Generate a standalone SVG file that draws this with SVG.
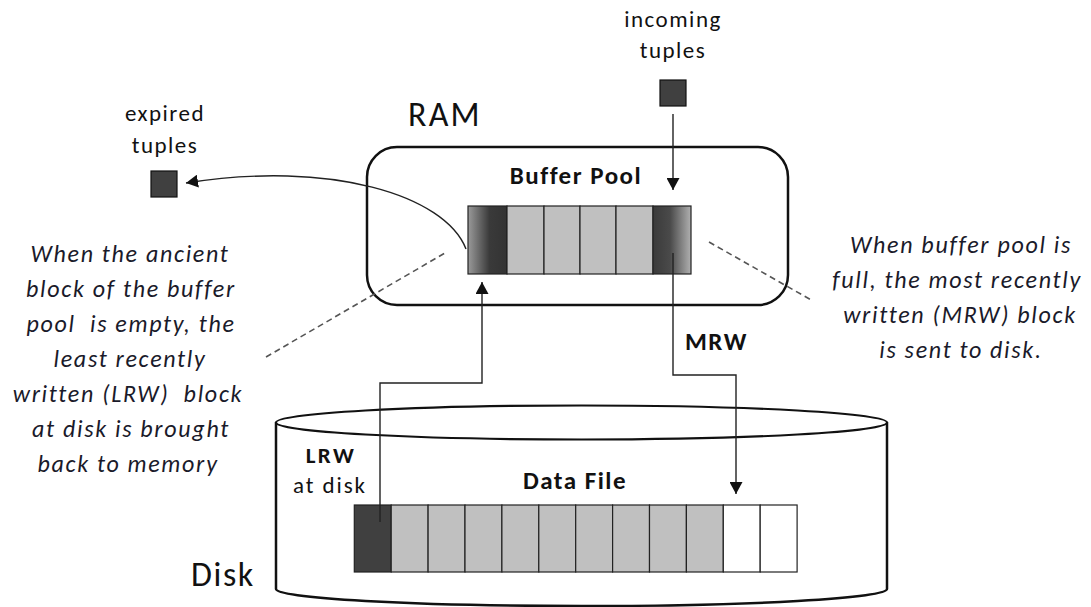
<svg xmlns="http://www.w3.org/2000/svg" width="1091" height="607" viewBox="0 0 1091 607">
  <style>
    .lbl { font-family: Carlito, Lato, "Liberation Sans", sans-serif; fill: #111; }
    .big { font-size: 34px; letter-spacing: 2.2px; }
    .small { font-size: 23px; letter-spacing: 1.5px; text-anchor: middle; }
    .bold { font-size: 25px; font-weight: bold; letter-spacing: 1.5px; }
    .note { font-size: 24px; font-style: italic; letter-spacing: 1.7px; text-anchor: middle; fill: #1a1a2a; }
    .cell { stroke: #222; stroke-width: 1.2; }
    .gray { fill: #c0c0c0; }
    .dark { fill: #404040; }
    .empty { fill: #ffffff; }
    .tuple { fill: #404040; stroke: #111; stroke-width: 1.2; }
    .conn { fill: none; stroke: #222; stroke-width: 1.4; }
    .dash { fill: none; stroke: #555; stroke-width: 1.6; stroke-dasharray: 6 4; }
  </style>
  <defs>
    <marker id="arrow" markerUnits="userSpaceOnUse" markerWidth="13" markerHeight="13" refX="12" refY="6.5" orient="auto">
      <path d="M0,0 L12,6.5 L0,13 Z" fill="#111"/>
    </marker>
    <linearGradient id="oldest" x1="0" y1="0" x2="1" y2="0">
      <stop offset="0" stop-color="#9a9a9a"/>
      <stop offset="0.55" stop-color="#3a3a3a"/>
      <stop offset="1" stop-color="#333333"/>
    </linearGradient>
    <linearGradient id="newest" x1="0" y1="0" x2="1" y2="0">
      <stop offset="0" stop-color="#3a3a3a"/>
      <stop offset="0.45" stop-color="#4a4a4a"/>
      <stop offset="1" stop-color="#b0b0b0"/>
    </linearGradient>
  </defs>

  <!-- disk cylinder -->
  <g id="disk">
    <path d="M276,422 L276,589 A305.5,17 0 0 0 887,589 L887,422" fill="#fff" stroke="#111" stroke-width="2.5"/>
    <ellipse cx="581.5" cy="422.5" rx="305.5" ry="17" fill="#fff" stroke="#111" stroke-width="2.2"/>
    <text class="lbl big" x="191" y="586" style="letter-spacing:1.6px">Disk</text>
  </g>

  <!-- data file blocks -->
  <g id="data-file">
    <rect class="cell dark" x="354.3" y="505" width="36.9" height="67"/>
    <rect class="cell gray" x="391.2" y="505" width="36.9" height="67"/>
    <rect class="cell gray" x="428.1" y="505" width="36.9" height="67"/>
    <rect class="cell gray" x="465" y="505" width="36.9" height="67"/>
    <rect class="cell gray" x="501.9" y="505" width="36.9" height="67"/>
    <rect class="cell gray" x="538.8" y="505" width="36.9" height="67"/>
    <rect class="cell gray" x="575.7" y="505" width="36.9" height="67"/>
    <rect class="cell gray" x="612.6" y="505" width="36.9" height="67"/>
    <rect class="cell gray" x="649.5" y="505" width="36.9" height="67"/>
    <rect class="cell gray" x="686.4" y="505" width="36.9" height="67"/>
    <rect class="cell empty" x="723.3" y="505" width="36.9" height="67"/>
    <rect class="cell empty" x="760.2" y="505" width="36.9" height="67"/>
    <text class="lbl bold" x="575" y="489" text-anchor="middle">Data File</text>
  </g>

  <g id="lrw-label">
    <text class="lbl" x="331" y="463" font-size="23" font-weight="bold" letter-spacing="2.4" text-anchor="middle">LRW</text>
    <text class="lbl" x="330" y="493" font-size="23" letter-spacing="1.9" text-anchor="middle">at disk</text>
  </g>

  <!-- RAM buffer pool -->
  <g id="ram">
    <text class="lbl big" x="408" y="126">RAM</text>
    <rect x="367" y="147" width="421" height="158" rx="30" ry="30" fill="#fff" stroke="#111" stroke-width="2.5"/>
    <text class="lbl bold" x="576" y="184" text-anchor="middle">Buffer Pool</text>
  </g>

  <g id="buffer-pool">
    <rect class="cell" fill="url(#oldest)" x="468" y="206" width="39" height="68"/>
    <rect class="cell gray" x="507" y="206" width="37" height="68"/>
    <rect class="cell gray" x="544" y="206" width="36" height="68"/>
    <rect class="cell gray" x="580" y="206" width="36" height="68"/>
    <rect class="cell gray" x="616" y="206" width="37" height="68"/>
    <rect class="cell" fill="url(#newest)" x="653" y="206" width="38" height="68"/>
  </g>

  <!-- tuples -->
  <g id="incoming">
    <text class="lbl small" x="673" y="27">incoming</text>
    <text class="lbl small" x="673" y="58">tuples</text>
    <rect class="tuple" x="660" y="80" width="26" height="26"/>
  </g>
  <g id="expired">
    <text class="lbl small" x="165" y="121">expired</text>
    <text class="lbl small" x="165" y="153">tuples</text>
    <rect class="tuple" x="151" y="171" width="26" height="26"/>
  </g>

  <!-- explanatory notes -->
  <g id="note-left">
    <text class="lbl note" x="130" y="262">When the ancient</text>
    <text class="lbl note" x="131" y="297">block of the buffer</text>
    <text class="lbl note" x="131" y="332" xml:space="preserve">pool  is empty, the</text>
    <text class="lbl note" x="130" y="367">least recently</text>
    <text class="lbl note" x="128" y="402" xml:space="preserve">written (LRW)  block</text>
    <text class="lbl note" x="131" y="437">at disk is brought</text>
    <text class="lbl note" x="128" y="472">back to memory</text>
  </g>
  <g id="note-right">
    <text class="lbl note" x="961" y="253">When buffer pool is</text>
    <text class="lbl note" x="957" y="288">full, the most recently</text>
    <text class="lbl note" x="960" y="323">written (MRW) block</text>
    <text class="lbl note" x="961" y="358">is sent to disk.</text>
  </g>

  <g id="mrw-label">
    <text class="lbl bold" x="685" y="350">MRW</text>
  </g>

  <!-- connectors -->
  <g id="connectors">
    <path class="conn" d="M673,114 L673,190" marker-end="url(#arrow)"/>
    <path class="conn" d="M466,249 C445,195 330,160 186,183" marker-end="url(#arrow)"/>
    <path class="conn" d="M380,522 L380,383 L482,383 L482,282" marker-end="url(#arrow)"/>
    <path class="conn" d="M673,253 L673,375 L736,375 L736,494" marker-end="url(#arrow)"/>
    <path class="dash" d="M266,357 L445,253"/>
    <path class="dash" d="M709,242 L813,301"/>
  </g>
</svg>
